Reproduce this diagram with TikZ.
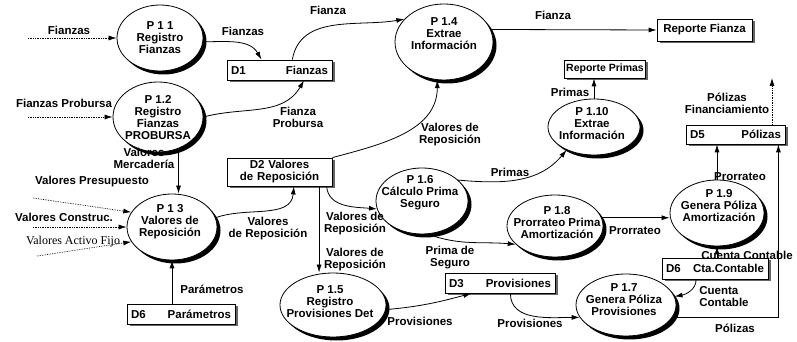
\documentclass[tikz,border=0pt]{standalone}
\usepackage{fontspec}
\setmainfont{Liberation Sans}
\newfontfamily\timesfont{Liberation Serif}
\usetikzlibrary{arrows.meta,shapes.geometric,shadows}

\begin{document}
\begin{tikzpicture}[x=1pt, y=1pt, >={Latex[length=8pt,width=5pt]}, line width=0.8pt,
    every node/.style={font=\fontsize{11.5}{12}\selectfont\bfseries},
    proc/.style={ellipse, draw, fill=white, inner sep=0pt,
      drop shadow={shadow xshift=3.5pt, shadow yshift=-3.5pt, fill=black, opacity=1}},
    store/.style={rectangle, draw, fill=white, inner xsep=4pt, inner ysep=0pt,
      drop shadow={shadow xshift=2.5pt, shadow yshift=-2.5pt, fill=black!60, opacity=1}},
    ptext/.style={align=center, inner sep=0pt},
    flowlbl/.style={align=center, inner sep=0pt},
    extflow/.style={->, densely dotted, line width=0.7pt}]
  \useasboundingbox (0,0) rectangle (797,342);

  % 1. 处理过程 (椭圆 + 阴影)
  \node[proc, minimum width=86pt, minimum height=66pt] (p11) at (160,304) {};
  \node[proc, minimum width=90pt, minimum height=70pt] (p12) at (158,225) {};
  \node[proc, minimum width=90pt, minimum height=66pt] (p13) at (172,115) {};
  \node[proc, minimum width=98pt, minimum height=76pt] (p14) at (444,300) {};
  \node[proc, minimum width=106pt, minimum height=64pt] (p15) at (333,37) {};
  \node[proc, minimum width=92pt, minimum height=66pt] (p16) at (422,141) {};
  \node[proc, minimum width=100pt, minimum height=62pt] (p17) at (626,37) {};
  \node[proc, minimum width=96pt, minimum height=62pt] (p18) at (555,116) {};
  \node[proc, minimum width=94pt, minimum height=66pt] (p19) at (717,129) {};
  \node[proc, minimum width=92pt, minimum height=56pt] (p110) at (594,215) {};

  % 2. 处理过程文字
  \node[ptext] (p11t) at (160,304) {P 1 1\\Registro\\Fianzas};
  \node[ptext] (p12t) at (158,224) {P 1.2\\Registro\\Fianzas\\PROBURSA};
  \node[ptext] (p13t) at (170,120) {P 1 3\\Valores de\\Reposición};
  \node[ptext] (p14t) at (444,308) {P 1.4\\Extrae\\Información};
  \node[ptext] (p15t) at (330,40) {P 1.5\\Registro\\Provisiones Det};
  \node[ptext] (p16t) at (420,149) {P 1.6\\Cálculo Prima\\Seguro};
  \node[ptext] (p17t) at (624,42) {P 1.7\\Genera Póliza\\Provisiones};
  \node[ptext] (p18t) at (557,119) {P 1.8\\Prorrateo Prima\\Amortización};
  \node[ptext] (p19t) at (719,136) {P 1.9\\Genera Póliza\\Amortización};
  \node[ptext] (p110t) at (592,218) {P 1.10\\Extrae\\Información};

  % 3. 数据存储
  \node[store, text width=97pt, minimum height=20pt] (d1) at (279.5,272) {D1\hfill Fianzas};
  \node[store, text width=97pt, minimum height=28pt, align=center] (d2) at (279.5,170) {D2 Valores\\de Reposición};
  \node[store, text width=100pt, minimum height=20pt] (d6p) at (181,28) {D6\hfill Parámetros};
  \node[store, text width=102pt, minimum height=20pt] (d3) at (500,59) {D3\hfill Provisiones};
  \node[store, text width=98pt, minimum height=21pt] (d6c) at (715,73.5) {D6\hfill Cta.Contable};
  \node[store, text width=91pt, minimum height=19pt] (d5) at (735.5,207.5) {D5\hfill Pólizas};
  \node[store, minimum width=95pt, minimum height=22pt, inner xsep=2pt] (rf) at (704.5,312) {Reporte Fianza};
  \node[store, minimum width=78pt, minimum height=18pt, inner xsep=2pt,
    font=\fontsize{10.5}{12}\selectfont\bfseries] (rp) at (605,273) {Reporte Primas};

  \coordinate (c1) at (28,304);
  \coordinate (c2) at (28,225);
  \coordinate (c3) at (33,144);
  \coordinate (c4) at (33,115);
  \coordinate (c5) at (37,86);
  \coordinate (pf) at (772,264);

  % 4. 外部数据流 (虚线)
  \draw[extflow] (c1) -- (p11.west);
  \draw[extflow] (c2) -- (p12.west);
  \draw[extflow] (c3) -- (p13.160);
  \draw[extflow] (c4) -- (p13.west);
  \draw[extflow] (c5) -- (p13.200);
  \draw[extflow] (d5.north -| pf) -- (pf);

  % 5. 数据流
  \draw[->] (p11.-5) to[out=0, in=120] (d1.150);
  \draw[->] (p12.east) to[out=15, in=-120] (d1.-23);
  \draw[->] (d1.39) to[out=80, in=190] (p14.150);
  \draw[->] (p14.15) -- (rf.west);
  \draw[->] (p110.north) -- (p110.north |- rp.south);
  \draw[->] (p12.-57) -- (p12.-57 |- p13.north);
  \draw[->] (p13.south |- d6p.north) -- (p13.south);
  \draw[->] (p13.12) to[out=20, in=-95] (d2.-45);
  \draw[->] (d2.north east) to[out=15, in=-90] (p14.-100);
  \draw[->] (d2.-20.5) -- (d2.-20.5 |- p15.north);
  \draw[->] (d2.-17) to[out=-85, in=175] (p16.190);
  \draw[->] (p16.30) to[out=-5, in=-130] (p110.-140);
  \draw[->] (p16.-80) to[out=-20, in=175] (p18.205);
  \draw[->] (p18.10) -- (p18.10 -| p19.west);
  \draw[->] (p19.north) -- (p19.north |- d5.south);
  \draw[->] (d6c.north -| p19.south) -- (p19.south);
  \draw[->] (d6c.-150) to[out=-90, in=10] (p17.10);
  \draw[->] (p17.-15) -| (d5.-13);
  \draw[->] (p15.-5) to[out=5, in=195] (d3.-160);
  \draw[->] (d3.-45) to[out=-90, in=180] (p17.195);

  % 6. 数据流标签
  \node[flowlbl] (lfz0) at (69,312) {Fianzas};
  \node[flowlbl] (lfz1) at (243,311) {Fianzas};
  \node[flowlbl] (lfz2) at (328,332) {Fianza};
  \node[flowlbl] (lfz3) at (553,327) {Fianza};
  \node[flowlbl] (lfp0) at (64,239) {Fianzas Probursa};
  \node[flowlbl] (lfp1) at (298,225) {Fianza\\Probursa};
  \node[flowlbl] (lvr1) at (450,207) {Valores de\\Reposición};
  \node[flowlbl] (lpr1) at (570,250) {Primas};
  \node[flowlbl] (lpf) at (727,239) {Pólizas\\Financiamiento};
  \node[flowlbl] (lvm) at (144,184) {Valores\\Mercadería};
  \node[flowlbl] (lvp) at (92,160) {Valores Presupuesto};
  \node[flowlbl] (lvc) at (64,125) {Valores Construc.};
  \node[flowlbl, font=\fontsize{12}{12}\selectfont\timesfont] (lva) at (73,100) {Valores Activo Fijo};
  \node[flowlbl] (lpa) at (212,53) {Parámetros};
  \node[flowlbl] (lvr2) at (268,113) {Valores\\de Reposición};
  \node[flowlbl] (lvr3) at (355,118) {Valores de\\Reposición};
  \node[flowlbl] (lvr4) at (355,82) {Valores de\\Reposición};
  \node[flowlbl] (lpr2) at (510,170) {Primas};
  \node[flowlbl] (lps) at (450,84) {Prima de\\Seguro};
  \node[flowlbl] (lpo1) at (635,111) {Prorrateo};
  \node[flowlbl] (lpo2) at (740,165) {Prorrateo};
  \node[flowlbl] (lcc1) at (747,87) {Cuenta Contable};
  \node[flowlbl, align=left] (lcc2) at (724,45) {Cuenta\\Contable};
  \node[flowlbl] (lpv1) at (420,21) {Provisiones};
  \node[flowlbl] (lpv2) at (530,19) {Provisiones};
  \node[flowlbl] (lpo3) at (735,14) {Pólizas};
\end{tikzpicture}
\end{document}
